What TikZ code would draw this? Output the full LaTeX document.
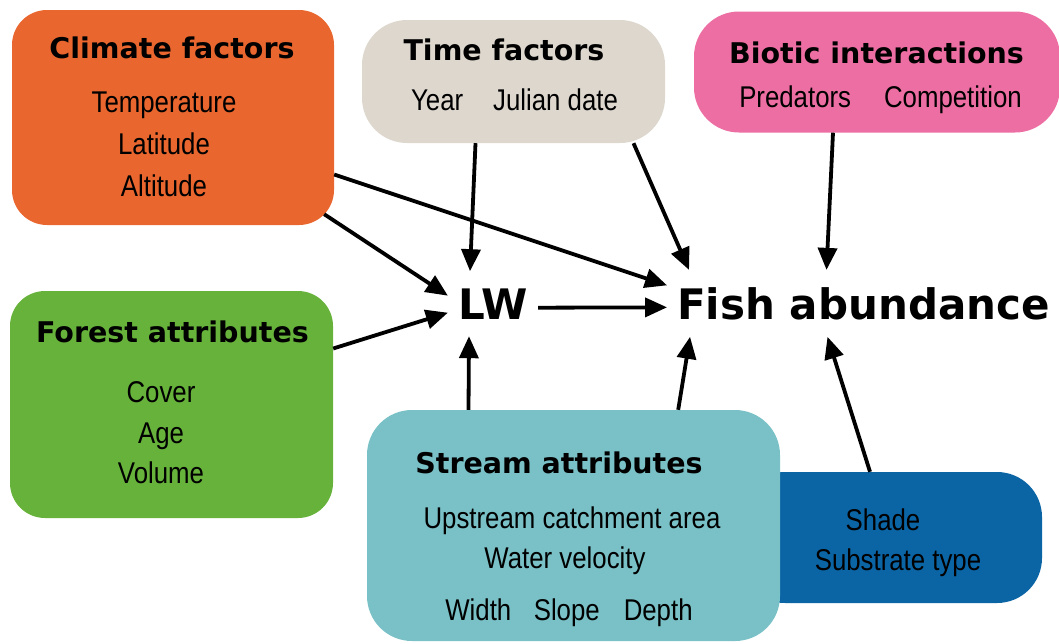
\documentclass[tikz,border=0pt]{standalone}
\usepackage{fontspec}
\usepackage{tikz}
\usetikzlibrary{arrows.meta}

\newfontfamily\bodyfont[FakeStretch=0.86]{Liberation Sans}
\newfontfamily\headfont{DejaVu Sans}

\definecolor{climfill}{HTML}{E9662F}
\definecolor{timefill}{HTML}{DDD7CE}
\definecolor{biofill}{HTML}{EC6EA2}
\definecolor{forfill}{HTML}{67B23B}
\definecolor{strfill}{HTML}{79C1C6}
\definecolor{shadefill}{HTML}{0B65A5}

\begin{document}
\begin{tikzpicture}[x=1pt,y=-1pt,
  box/.style={rounded corners=40pt, inner sep=0pt},
  head/.style={anchor=base, inner sep=0pt, font=\headfont\bfseries\fontsize{28.5}{30}\selectfont},
  body/.style={anchor=base, inner sep=0pt, font=\bodyfont\fontsize{30}{32}\selectfont},
  big/.style={anchor=base, inner xsep=10pt, inner ysep=17pt, font=\headfont\bfseries\fontsize{42}{44}\selectfont},
  link/.style={-{Triangle[length=22pt,width=19pt]}, line width=3.8pt}]
\useasboundingbox (0,0) rectangle (1059,643);

% Boxes (shade box first, it sits behind the stream box)
\node[box, rounded corners=35pt, fill=climfill, minimum width=322pt, minimum height=215pt] (climate) at (173,117.5) {};
\node[box, rounded corners=45pt, fill=timefill, minimum width=303pt, minimum height=123pt] (time) at (513.5,81.5) {};
\node[box, rounded corners=45pt, fill=biofill, minimum width=366pt, minimum height=121pt] (biotic) at (877,72) {};
\node[box, rounded corners=35pt, fill=forfill, minimum width=323pt, minimum height=227pt] (forest) at (171.5,404.5) {};
\node[box, rounded corners=45pt, fill=shadefill, minimum width=302pt, minimum height=131pt] (shade) at (891,537.5) {};
\node[box, rounded corners=45pt, fill=strfill, minimum width=413pt, minimum height=231pt] (stream) at (573.5,525.5) {};

% Box titles
\node[head] (climhead) at (172,58) {Climate factors};
\node[head] (timehead) at (504,60) {Time factors};
\node[head] (biohead) at (876.5,63) {Biotic interactions};
\node[head] (forhead) at (172.5,342) {Forest attributes};
\node[head] (strhead) at (559,473) {Stream attributes};

% Box contents
\foreach \nm/\x/\y/\txt in {clim1/164/112/Temperature, clim2/164/154/Latitude, clim3/164/196/Altitude,
    time1/514.5/110/{Year\quad Julian date}, bio1/880.5/107/{Predators\hspace{1.1em}Competition},
    for1/161/402/Cover, for2/161/443/Age, for3/161/483/Volume,
    str1/572/528/Upstream catchment area, str2/565/568/Water velocity,
    str3/569/620/{Width\hspace{0.75em}Slope\hspace{0.8em}Depth},
    shade1/883/530/Shade, shade2/898/570/Substrate type}
  \node[body] (\nm) at (\x,\y) {\txt};

% Central nodes
\node[big] (lw) at (493,319) {LW};
\node[big] (fish) at (863.5,319) {Fish abundance};

% Links
\draw[link] ([xshift=-10pt,yshift=11pt]climate.south east) -- ([yshift=8pt]lw.west);
\draw[link] ([yshift=-57pt]climate.east) -- ([yshift=18pt]fish.west);
\draw[link] ([xshift=-38pt]time.south) -- ([xshift=-23pt]lw.north);
\draw[link] ([xshift=120pt]time.south) -- ([xshift=22pt]fish.north west);
\draw[link] ([xshift=-44pt]biotic.south) -- ([xshift=-37pt]fish.north);
\draw[link] ([yshift=56pt]forest.east) -- ([yshift=-9pt]lw.west);
\draw[link] ([yshift=-4pt]lw.east) -- ([yshift=-4pt]fish.west);
\draw[link] ([xshift=-105pt]stream.north) -- ([xshift=-24pt]lw.south);
\draw[link] ([xshift=-102pt]stream.north east) -- ([xshift=23pt]fish.south west);
\draw[link] ([xshift=-21pt]shade.north) -- ([xshift=-36pt]fish.south);
\end{tikzpicture}
\end{document}
